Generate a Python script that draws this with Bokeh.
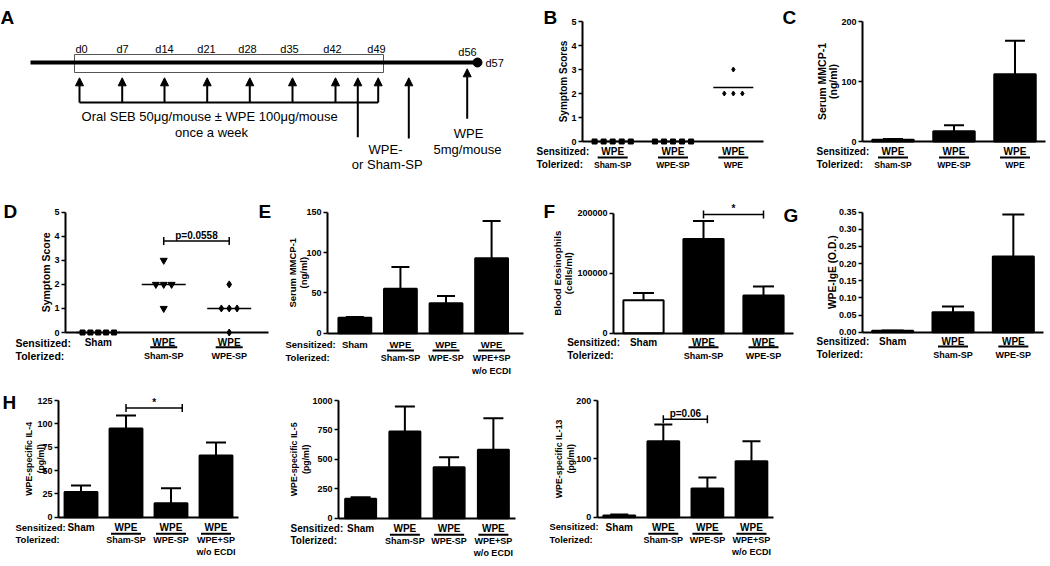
import numpy as np
from bokeh.plotting import figure
from bokeh.models import Range1d, LinearAxis, FixedTicker, Arrow, NormalHead, ColumnDataSource
from bokeh.layouts import column, row
from bokeh.core.properties import value
from bokeh.embed import file_html
from bokeh.resources import INLINE

FONT = "Liberation Sans"

# ======================= DATA =======================
# Panel A - schematic timeline
a_day_labels = ["d0", "d7", "d14", "d21", "d28", "d35", "d42", "d49"]
a_texts = ["Oral SEB 50\u03bcg/mouse \u00b1  WPE 100\u03bcg/mouse", "once a week",
           "WPE-", "or Sham-SP", "WPE", "5mg/mouse"]

# Panel B - symptom scores
b_sens = ["WPE", "WPE", "WPE"]
b_tol = ["Sham-SP", "WPE-SP", "WPE"]
b_scores = [[0, 0, 0, 0, 0], [0, 0, 0, 0, 0], [2, 2, 2, 3]]
b_markers = ["square", "square", "diamond"]
b_yticks = [0, 1, 2, 3, 4, 5]
b_yticklabels = ["0", "1", "2", "3", "4", "5"]

# Panel C - serum MMCP-1
c_sens = ["WPE", "WPE", "WPE"]
c_tol = ["Sham-SP", "WPE-SP", "WPE"]
c_mean = [3, 17, 112]
c_sem = [1, 10, 56]
c_yticks = [0, 100, 200]
c_yticklabels = ["0", "100", "200"]

# Panel D - symptom score
d_sens = ["Sham", "WPE", "WPE"]
d_tol = ["", "Sham-SP", "WPE-SP"]
d_scores = [[0, 0, 0, 0, 0], [3, 2, 2, 2, 1], [2, 1, 1, 1, 0]]
d_markers = ["square", "inverted_triangle", "diamond"]
d_bracket = (2, 3, 3.8, "p=0.0558")

# Panel E - serum MMCP-1
e_sens = ["Sham", "WPE", "WPE", "WPE"]
e_tol = ["", "Sham-SP", "WPE-SP", "WPE+SP"]
e_tol2 = ["", "", "", "w/o ECDI"]
e_mean = [19, 55, 37, 93]
e_sem = [1, 27, 9, 46]
e_yticks = [0, 50, 100, 150]
e_yticklabels = ["0", "50", "100", "150"]

# Panel F - blood eosinophils
f_sens = ["Sham", "WPE", "WPE"]
f_tol = ["", "Sham-SP", "WPE-SP"]
f_mean = [55000, 157000, 63000]
f_sem = [12000, 30000, 15000]
f_fill = ["white", "black", "black"]
f_yticks = [0, 100000, 200000]
f_yticklabels = ["0", "100000", "200000"]
f_bracket = (2, 3, 198000, "*")

# Panel G - WPE-IgE
g_sens = ["Sham", "WPE", "WPE"]
g_tol = ["", "Sham-SP", "WPE-SP"]
g_mean = [0.004, 0.058, 0.221]
g_sem = [0.001, 0.017, 0.122]
g_yticks = [0.0, 0.05, 0.1, 0.15, 0.2, 0.25, 0.3, 0.35]
g_yticklabels = ["0.00", "0.05", "0.10", "0.15", "0.20", "0.25", "0.30", "0.35"]

# Panel H - cytokines
h_sens = ["Sham", "WPE", "WPE", "WPE"]
h_tol = ["", "Sham-SP", "WPE-SP", "WPE+SP"]
h_tol2 = ["", "", "", "w/o ECDI"]
h4_mean = [27, 95, 15, 66]
h4_sem = [7, 14, 16, 14]
h4_yticks = [0, 25, 50, 75, 100, 125]
h4_yticklabels = ["0", "25", "50", "75", "100", "125"]
h4_bracket = (2, 3.25, 117, "*")
h5_mean = [165, 737, 433, 581]
h5_sem = [13, 212, 85, 269]
h5_yticks = [0, 250, 500, 750, 1000]
h5_yticklabels = ["0", "250", "500", "750", "1000"]
h13_mean = [3, 130, 49, 96]
h13_sem = [1.5, 29, 19, 34]
h13_yticks = [0, 100, 200]
h13_yticklabels = ["0", "100", "200"]
h13_bracket = (2, 3, 168, "p=0.06")


# ======================= HELPERS =======================
AXB = {}


def style_axis(ax, tick_fs="9px"):
    ax.axis_line_width = 2
    ax.axis_line_color = "black"
    ax.major_tick_line_width = 1.5
    ax.major_tick_line_color = "black"
    ax.major_tick_out = 4
    ax.major_tick_in = 0
    ax.minor_tick_line_color = None
    ax.major_label_text_font = FONT
    ax.major_label_text_font_style = "bold"
    ax.major_label_text_font_size = tick_fs
    ax.major_label_text_color = "black"
    ax.major_label_standoff = 2


def txt(p, x, y, s, fs, align="center", baseline="middle", bold=True, xr=None, yr="loc", angle=0):
    kw = {}
    if xr:
        kw["x_range_name"] = xr
    if yr:
        kw["y_range_name"] = yr
    p.text(x=x, y=y, text=s, text_align=align, text_baseline=baseline, angle=angle,
           text_font=value(FONT), text_font_style="bold" if bold else "normal",
           text_font_size=fs, text_color="black", **kw)


def panel(w, h, ax_l, ax_r, ax_t, ax_b, xlo, xhi, ytop, yticks, yticklabels,
          ylabels, ylabel_x, ylabel_fs):
    dx = (xhi - xlo) / (ax_r - ax_l)
    dy = ytop / (ax_b - ax_t)
    p = figure(width=w, height=h,
               x_range=Range1d(xlo - ax_l * dx, xlo + (w - ax_l) * dx),
               y_range=Range1d(-(h - ax_b) * dy, ytop + ax_t * dy),
               x_axis_type=None, y_axis_type=None, toolbar_location=None,
               output_backend="svg", min_border=0)
    p.outline_line_color = None
    p.background_fill_color = "white"
    p.border_fill_color = "white"
    # local (figure pixel) coordinates for decorations
    p.extra_x_ranges = {"loc": Range1d(0, w)}
    p.extra_y_ranges = {"loc": Range1d(h, 0)}
    yax = LinearAxis(fixed_location=xlo, bounds=(0, ytop),
                     ticker=FixedTicker(ticks=yticks),
                     major_label_overrides={t: l for t, l in zip(yticks, yticklabels)})
    style_axis(yax)
    p.add_layout(yax, "left")
    xax = LinearAxis(fixed_location=0, bounds=(xlo, xhi), ticker=FixedTicker(ticks=[]))
    style_axis(xax)
    xax.major_label_text_font_size = "0px"
    p.add_layout(xax, "below")
    # y-axis title (one glyph per line), centred on the axis
    yc = (ax_t + ax_b) / 2
    txt(p, ylabel_x, [yc] * len(ylabels), ylabels, ylabel_fs, xr="loc", angle=np.pi / 2)
    AXB[id(p)] = ax_b
    return p


def letter(p, x, y, s):
    txt(p, [x], [y], [s], "19px", align="left", baseline="alphabetic", xr="loc")


def xlabels(p, n, sens, tol, tol2, row_x, dys, fs_row="10px", fs_sens="10px", fs_tol="9px", ul=30):
    xs = list(range(1, n + 1))
    b = AXB[id(p)]
    labels = ["Sensitized:", "Tolerized:"]
    txt(p, [row_x, row_x], [b + dys[0], b + dys[2]], labels, fs_row, align="left", xr="loc")
    txt(p, xs, [b + dys[0]] * n, sens, fs_sens)
    txt(p, xs, [b + dys[2]] * n, tol, fs_tol)
    if tol2 is not None:
        txt(p, xs, [b + dys[3]] * n, tol2, fs_tol)
    ux = [x for x, t in zip(xs, tol) if t]
    p.scatter(x=ux, y=[b + dys[1]] * len(ux), marker="dash", size=ul, line_width=2,
              line_color="black", y_range_name="loc")


def bars(p, means, sems, width, cap, fills=None):
    n = len(means)
    xs = list(range(1, n + 1))
    fills = fills or ["black"] * n
    tops = [m + s for m, s in zip(means, sems)]
    p.segment(x0=xs, y0=means, x1=xs, y1=tops, line_width=2, line_color="black")
    p.vbar(x=xs, top=means, bottom=0, width=width, fill_color=fills,
           line_color="black", line_width=2)
    p.scatter(x=xs, y=tops, marker="dash", size=cap, line_width=2, line_color="black")


def spread(vals, center, step):
    counts = {}
    for v in vals:
        counts[v] = counts.get(v, 0) + 1
    seen = {}
    xs = []
    for v in vals:
        k = counts[v]
        i = seen.get(v, 0)
        seen[v] = i + 1
        xs.append(center + (i - (k - 1) / 2) * step)
    return xs


def dots(p, groups, markers, step, msize, line_px):
    for gi, (vals, mk) in enumerate(zip(groups, markers)):
        c = gi + 1
        xs = spread(vals, c, step)
        p.scatter(x=[c], y=[float(np.mean(vals))], marker="dash", size=line_px,
                  line_width=1.5, line_color="black")
        sz = msize if mk != "square" else 5
        p.scatter(x=xs, y=vals, marker=mk, size=sz, fill_color="black", line_color="black")


def bracket(p, br, fs="10px"):
    x0, x1, y, lab = br
    p.segment(x0=[x0], y0=[y], x1=[x1], y1=[y], line_width=1.5, line_color="black")
    p.scatter(x=[x0, x1], y=[y, y], marker="dash", angle=np.pi / 2, size=8,
              line_width=1.5, line_color="black")
    txt(p, [(x0 + x1) / 2], [y], [lab], fs, baseline="bottom", yr=None)


# ======================= PANEL A =======================
a_day_x = [81, 122, 164, 206, 247, 289, 332, 376]
a_arrow_x = [79, 121.7, 164, 206.7, 249.3, 292, 335, 357.3, 377.7, 408.3, 466.7]
a_arrow_y0 = [102, 102, 102, 102, 102, 102, 102, 136.7, 102, 138, 118.3]
a_arrow_y1 = [77.3] * 10 + [68.3]

pa = figure(width=530, height=198, x_range=Range1d(0, 530), y_range=Range1d(198, 0),
            x_axis_type=None, y_axis_type=None, toolbar_location=None,
            output_backend="svg", min_border=0)
pa.outline_line_color = None
pa.quad(left=[74], right=[383], top=[54], bottom=[72], fill_color=None,
        line_color="#555555", line_width=1)
pa.line(x=[30, 477], y=[62, 62], line_width=4, line_color="black")
pa.scatter(x=[477], y=[62], size=9, fill_color="black", line_color="black")
pa.line(x=[79, 377.7], y=[102, 102], line_width=2, line_color="black")
arr_src = ColumnDataSource(dict(x0=a_arrow_x, y0=a_arrow_y0, x1=a_arrow_x, y1=a_arrow_y1))
pa.add_layout(Arrow(end=NormalHead(size=8, fill_color="black", line_color="black", line_width=1),
                    x_start="x0", y_start="y0", x_end="x1", y_end="y1",
                    source=arr_src, line_width=2, line_color="black"))
txt(pa, a_day_x, [48] * len(a_day_x), a_day_labels, "11px", bold=False, yr=None)
txt(pa, [467], [51.7], ["d56"], "11px", bold=False, yr=None)
txt(pa, [485], [62], ["d57"], "11px", align="left", bold=False, yr=None)
txt(pa, [211, 211, 385, 386.7, 468, 467], [116, 131.7, 149.3, 164.3, 132.7, 149],
    a_texts, "13px", bold=False, yr=None)
txt(pa, [0], [17], ["A"], "19px", align="left", baseline="alphabetic", yr=None)

# ======================= PANEL B =======================
pb = panel(245, 198, 52, 233, 21, 141, 0.5, 3.5, 5, b_yticks, b_yticklabels,
           ["Symptom Scores"], [33], "10px")
dots(pb, b_scores, b_markers, 0.15, 5, 40)
xlabels(pb, 3, b_sens, b_tol, None, 6, (10, 16, 23), fs_tol="8.5px")
letter(pb, 13, 17, "B")

# ======================= PANEL C =======================
pc = panel(271, 198, 87, 270, 21, 141, 0.5, 3.5, 200, c_yticks, c_yticklabels,
           ["Serum MMCP-1", "(ng/ml)"], [46, 57], "10.5px")
bars(pc, c_mean, c_sem, 0.68, 20)
xlabels(pc, 3, c_sens, c_tol, None, 41, (10, 16, 23), fs_tol="8.5px")
letter(pc, 7, 17, "C")

# ======================= PANEL D =======================
pd_ = panel(272, 182, 65, 268, 13.7, 134, 0.5, 3.6, 5, b_yticks, b_yticklabels,
            ["Symptom Score"], [45], "10.5px")
dots(pd_, d_scores, d_markers, 0.12, 7, 44)
bracket(pd_, d_bracket)
xlabels(pd_, 3, d_sens, d_tol, None, 15, (10, 14.7, 23), fs_row="10.5px", ul=27)
letter(pd_, 3, 13, "D")
letter(pd_, 258, 13, "E")

# ======================= PANEL E =======================
pe = panel(260, 182, 55, 251, 13.7, 134.7, 0.4, 4.7, 150, e_yticks, e_yticklabels,
           ["Serum MMCP-1", "(ng/ml)"], [20, 31], "9.5px")
bars(pe, e_mean, e_sem, 0.72, 18)
xlabels(pe, 4, e_sens, e_tol, e_tol2, 13, (11.3, 17.3, 24.3, 37.3), fs_row="9.5px", fs_sens="9.5px", ul=27)

# ======================= PANEL F =======================
pf = panel(268, 182, 81, 261, 14.7, 134.7, 0.5, 3.5, 200000, f_yticks, f_yticklabels,
           ["Blood Eosinophils", "(cells/ml)"], [25, 36], "9.7px")
bars(pf, f_mean, f_sem, 0.67, 21, fills=f_fill)
bracket(pf, f_bracket)
xlabels(pf, 3, f_sens, f_tol, None, 34.7, (9, 14, 22.3))
letter(pf, 11, 13, "F")
letter(pf, 251, 17, "G")

# ======================= PANEL G =======================
pg = panel(246, 182, 62, 243, 13.7, 133.7, 0.5, 3.5, 0.35, g_yticks, g_yticklabels,
           ["WPE-IgE (O.D.)"], [32], "10.3px")
bars(pg, g_mean, g_sem, 0.68, 22)
xlabels(pg, 3, g_sens, g_tol, None, 16, (9, 14.3, 22.3))

# ======================= PANEL H =======================
ph1 = panel(270, 182, 58, 238, 20, 136.7, 0.5, 4.5, 125, h4_yticks, h4_yticklabels,
            ["WPE-specific IL-4", "(pg/ml)"], [28, 40], "8.8px")
bars(ph1, h4_mean, h4_sem, 0.73, 20)
bracket(ph1, h4_bracket)
xlabels(ph1, 4, h_sens, h_tol, h_tol2, 15, (10, 16.6, 22.6, 35), fs_row="9.5px")
letter(ph1, 2, 22, "H")

ph2 = panel(260, 182, 68, 245, 20, 137.7, 0.5, 4.5, 1000, h5_yticks, h5_yticklabels,
            ["WPE-specific IL-5", "(pg/ml)"], [23, 35], "8.8px")
bars(ph2, h5_mean, h5_sem, 0.7, 20)
xlabels(ph2, 4, h_sens, h_tol, h_tol2, 20, (10, 16.6, 22.6, 35))

ph3 = panel(260, 182, 66.7, 243, 20, 136.7, 0.5, 4.5, 200, h13_yticks, h13_yticklabels,
            ["WPE-specific IL-13", "(pg/ml)"], [28, 40], "8.8px")
bars(ph3, h13_mean, h13_sem, 0.72, 18)
bracket(ph3, h13_bracket)
xlabels(ph3, 4, h_sens, h_tol, h_tol2, 19, (10, 16.6, 22.6, 35), fs_row="9.3px")

layout = column(row(pa, pb, pc), row(pd_, pe, pf, pg), row(ph1, ph2, ph3))

open("out.html", "w").write(file_html(layout, INLINE, "Figure"))
